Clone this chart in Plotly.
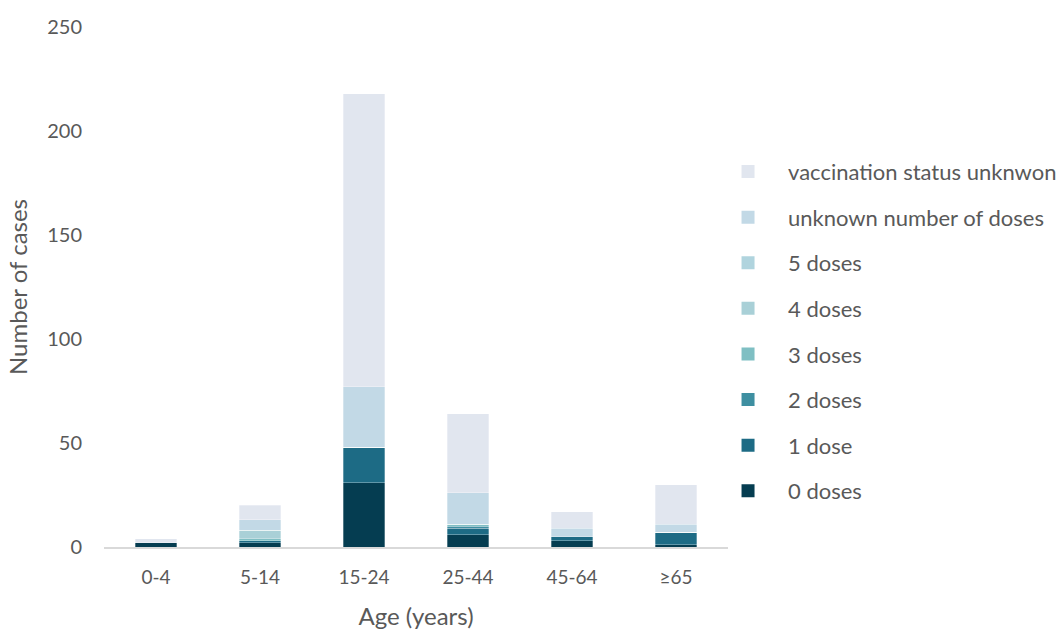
import plotly.graph_objects as go

categories = ["0-4", "5-14", "15-24", "25-44", "45-64", "≥65"]

doses_0 = [2, 2, 31, 6, 3, 1]
doses_1 = [0, 1, 17, 3, 2, 6]
doses_2 = [0, 0, 0, 1, 0, 0]
doses_3 = [0, 1, 0, 1, 0, 0]
doses_4 = [0, 4, 0, 0, 0, 0]
doses_5 = [0, 0, 0, 0, 0, 0]
unknown_doses = [0, 5, 29, 15, 4, 4]
status_unknown = [2, 7, 141, 38, 8, 19]

series_names = ["0 doses", "1 dose", "2 doses", "3 doses", "4 doses", "5 doses",
                "unknown number of doses", "vaccination status unknwon"]
series_values = [doses_0, doses_1, doses_2, doses_3, doses_4, doses_5,
                 unknown_doses, status_unknown]
colors = ["#053d51", "#1d6b85", "#3e8fa1", "#7fbfc3", "#a9d0d7", "#b0d4de",
          "#c2d9e6", "#e1e6ef"]

font_family = "Lato, 'Open Sans', sans-serif"
grey = "#595959"

fig = go.Figure()
for name, vals, col in zip(series_names, series_values, colors):
    fig.add_trace(go.Bar(
        x=categories, y=vals, name=name,
        marker=dict(color=col, line=dict(width=0.6, color="rgba(255,255,255,0.5)")),
        showlegend=False,
    ))

# legend entries, top to bottom in reverse stacking order
for name, col in reversed(list(zip(series_names, colors))):
    fig.add_trace(go.Scatter(
        x=[None], y=[None], mode="markers", name=name,
        marker=dict(symbol="square", size=13, color=col),
        legendgroup=name, showlegend=True,
    ))

fig.update_layout(
    barmode="stack",
    bargap=0.6,
    width=1060, height=630,
    margin=dict(l=104, r=332, t=27, b=83, autoexpand=False),
    plot_bgcolor="white", paper_bgcolor="white",
    font=dict(family=font_family, size=18, color=grey),
    legend=dict(
        x=0.968, xanchor="left", y=0.762, yanchor="top",
        traceorder="grouped", tracegroupgap=14,
        font=dict(size=22, color=grey), itemwidth=70,
        bgcolor="rgba(0,0,0,0)",
    ),
    xaxis=dict(
        title=dict(text="Age (years)", standoff=22, font=dict(size=24, color=grey)),
        showline=True, linecolor="#d9d9d9", linewidth=1.5,
        ticks="", showgrid=False, tickfont=dict(size=19, color=grey),
        ticklabelstandoff=12,
    ),
    yaxis=dict(
        title=dict(text="Number of cases", standoff=12, font=dict(size=24, color=grey)),
        range=[0, 250], tickvals=[0, 50, 100, 150, 200, 250],
        showgrid=False, zeroline=False, showline=False, ticks="",
        tickfont=dict(size=20, color=grey), ticklabelstandoff=21,
    ),
)

fig.write_html("out.html")
